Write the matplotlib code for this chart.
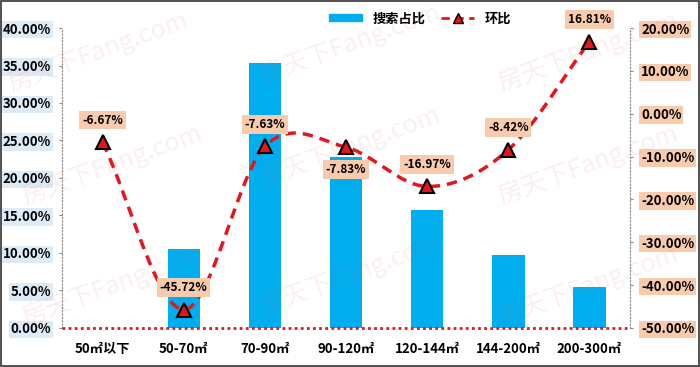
import numpy as np
import matplotlib.pyplot as plt
from matplotlib.patches import Rectangle

plt.rcParams['font.family'] = ['Noto Sans CJK SC', 'DejaVu Sans']

categories = ['50㎡以下', '50-70㎡', '70-90㎡', '90-120㎡', '120-144㎡', '144-200㎡', '200-300㎡']
search_share = [0.0, 10.5, 35.3, 22.8, 15.7, 9.7, 5.5]
mom = [-6.67, -45.72, -7.63, -7.83, -16.97, -8.42, 16.81]
label_below = [False, False, False, True, False, False, False]

bar_color = '#00AEEF'
line_color = '#E8141B'


def smooth(x, y, n=30):
    # catmull-rom style smoothing, similar to excel's smoothed line
    x = np.asarray(x, float)
    y = np.asarray(y, float)
    px = np.concatenate([[2 * x[0] - x[1]], x, [2 * x[-1] - x[-2]]])
    py = np.concatenate([[2 * y[0] - y[1]], y, [2 * y[-1] - y[-2]]])
    xs, ys = [], []
    t = np.linspace(0, 1, n)
    for i in range(1, len(px) - 2):
        p0, p1, p2, p3 = (np.array([px[j], py[j]]) for j in (i - 1, i, i + 1, i + 2))
        for tt in t:
            pt = 0.5 * ((2 * p1) + (-p0 + p2) * tt + (2 * p0 - 5 * p1 + 4 * p2 - p3) * tt ** 2
                        + (-p0 + 3 * p1 - 3 * p2 + p3) * tt ** 3)
            xs.append(pt[0])
            ys.append(pt[1])
    return np.array(xs), np.array(ys)


fig = plt.figure(figsize=(7, 3.67), dpi=100)

# watermark
for wx, wy in [(0.14, 0.86), (0.5, 0.88), (0.84, 0.86), (0.16, 0.55), (0.5, 0.6), (0.84, 0.55),
               (0.16, 0.22), (0.5, 0.25), (0.84, 0.22)]:
    fig.text(wx, wy, '房天下Fang.com', fontsize=18, color='#E06060', alpha=0.1, rotation=20,
             ha='center', va='center', zorder=0)

ax = fig.add_axes([0.0886, 0.1063, 0.8114, 0.8174])
ax.patch.set_alpha(0)
ax2 = ax.twinx()

x = np.arange(len(categories))
ax.bar(x, search_share, width=0.4, color=bar_color, zorder=2, label='搜索占比')
ax.set_xlim(-0.5, len(categories) - 0.5)
ax.set_ylim(0, 40)
ax.set_yticks(np.arange(0, 41, 5))
ax.set_yticklabels(['%.2f%%' % v for v in np.arange(0, 41, 5)], fontsize=9.5, fontweight='bold')
for t in ax.get_yticklabels():
    t.set_bbox(dict(facecolor='#DDEBF7', edgecolor='none', pad=1.2))
ax.set_xticks(x)
ax.set_xticklabels(categories, fontsize=9.5, fontweight='bold')
ax.tick_params(axis='x', length=0, pad=10)
ax.tick_params(axis='y', length=2, color='#888888', pad=6)

ax2.set_ylim(-50, 20)
ax2.set_yticks(np.arange(-50, 21, 10))
ax2.set_yticklabels(['%.2f%%' % v for v in np.arange(-50, 21, 10)], fontsize=9.5, fontweight='bold')
for t in ax2.get_yticklabels():
    t.set_bbox(dict(facecolor='#F8CBAD', edgecolor='none', pad=1.2))
ax2.tick_params(axis='y', length=2, color='#888888', pad=6)

for a in (ax, ax2):
    for s in a.spines.values():
        s.set_visible(False)
ax.spines['left'].set_visible(True)
ax.spines['left'].set_linestyle((0, (1, 2)))
ax.spines['left'].set_color('#888888')
ax2.spines['right'].set_visible(True)
ax2.spines['right'].set_linestyle((0, (1, 2)))
ax2.spines['right'].set_color('#888888')
ax.axhline(0, color=line_color, lw=2, ls=(0, (1, 1.2)), zorder=3, clip_on=False)

sx, sy = smooth(x, mom)
ax2.plot(sx, sy, color=line_color, lw=2.5, ls=(0, (3, 2)), zorder=4)
ax2.plot(x, mom, ls='none', marker='^', ms=10, mfc=line_color, mec='black', mew=1.5, zorder=5)

for xi, v, below in zip(x, mom, label_below):
    off = -16 if below else 16
    ax2.annotate('%.2f%%' % v, (xi, v), xytext=(0, off), textcoords='offset points',
                 ha='center', va='center', fontsize=8.5, fontweight='bold', zorder=6,
                 bbox=dict(facecolor='#F8CBAD', edgecolor='none', pad=2))

# legend
h1 = plt.Rectangle((0, 0), 1, 1, color=bar_color)
h2, = ax2.plot([], [], color=line_color, lw=2, ls=(0, (3, 2)), marker='^', ms=7, mfc=line_color, mec='black')
fig.legend([h1, h2], ['搜索占比', '环比'], loc='center', bbox_to_anchor=(0.6, 0.95), ncol=2,
           frameon=False, prop=dict(weight='bold', size=9.5), handlelength=2.5, columnspacing=1.2,
           handleheight=0.4)

fig.patches.append(Rectangle((0.002, 0.003), 0.996, 0.994, transform=fig.transFigure,
                             fill=False, edgecolor='#333333', lw=1.2))

fig.savefig('out.png', dpi=100)
